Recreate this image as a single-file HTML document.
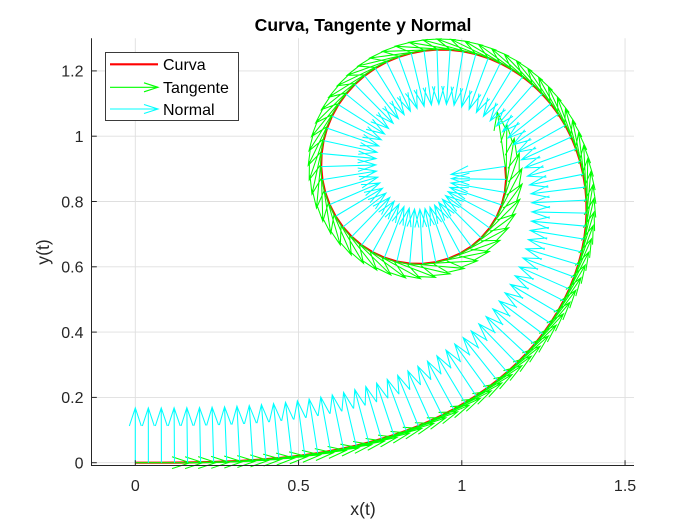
<!DOCTYPE html>
<html>
<head>
<meta charset="utf-8">
<style>
  html,body{margin:0;padding:0;background:#fff;}
  svg{display:block;}
  text{font-family:"Liberation Sans",Arial,sans-serif;}
</style>
</head>
<body>
<svg id="fig" width="700" height="525" viewBox="0 0 700 525" xmlns="http://www.w3.org/2000/svg">
  <rect x="0" y="0" width="700" height="525" fill="#ffffff"/>
  <!-- grid -->
  <g stroke="#dfdfdf" stroke-width="0.9" fill="none">
    <line x1="135.3" y1="38.3" x2="135.3" y2="465.7"/>
    <line x1="298.55" y1="38.3" x2="298.55" y2="465.7"/>
    <line x1="461.8" y1="38.3" x2="461.8" y2="465.7"/>
    <line x1="625.05" y1="38.3" x2="625.05" y2="465.7"/>
    <line x1="91.7" y1="462.7" x2="634" y2="462.7"/>
    <line x1="91.7" y1="397.4" x2="634" y2="397.4"/>
    <line x1="91.7" y1="332.1" x2="634" y2="332.1"/>
    <line x1="91.7" y1="266.8" x2="634" y2="266.8"/>
    <line x1="91.7" y1="201.5" x2="634" y2="201.5"/>
    <line x1="91.7" y1="136.2" x2="634" y2="136.2"/>
    <line x1="91.7" y1="70.9" x2="634" y2="70.9"/>
  </g>
  <g id="data"></g>
  <!-- axes -->
  <g stroke="#262626" stroke-width="1" fill="none">
    <line x1="91.5" y1="38.3" x2="91.5" y2="466"/>
    <line x1="91" y1="465.5" x2="634" y2="465.5"/>
    <line x1="135.3" y1="465.5" x2="135.3" y2="460.2"/>
    <line x1="298.55" y1="465.5" x2="298.55" y2="460.2"/>
    <line x1="461.8" y1="465.5" x2="461.8" y2="460.2"/>
    <line x1="625.05" y1="465.5" x2="625.05" y2="460.2"/>
    <line x1="91.5" y1="462.7" x2="96.8" y2="462.7"/>
    <line x1="91.5" y1="397.4" x2="96.8" y2="397.4"/>
    <line x1="91.5" y1="332.1" x2="96.8" y2="332.1"/>
    <line x1="91.5" y1="266.8" x2="96.8" y2="266.8"/>
    <line x1="91.5" y1="201.5" x2="96.8" y2="201.5"/>
    <line x1="91.5" y1="136.2" x2="96.8" y2="136.2"/>
    <line x1="91.5" y1="70.9" x2="96.8" y2="70.9"/>
  </g>
  <!-- tick labels -->
  <g fill="#262626" font-size="16" text-anchor="middle">
    <text x="135.3" y="491">0</text>
    <text x="298.55" y="491">0.5</text>
    <text x="461.8" y="491">1</text>
    <text x="625.05" y="491">1.5</text>
  </g>
  <g fill="#262626" font-size="16" text-anchor="end">
    <text x="83.5" y="468.5">0</text>
    <text x="83.5" y="403.2">0.2</text>
    <text x="83.5" y="337.9">0.4</text>
    <text x="83.5" y="272.6">0.6</text>
    <text x="83.5" y="207.3">0.8</text>
    <text x="83.5" y="142">1</text>
    <text x="83.5" y="76.7">1.2</text>
  </g>
  <text x="363" y="515" font-size="17.6" fill="#262626" text-anchor="middle">x(t)</text>
  <text x="0" y="0" font-size="17.6" fill="#262626" text-anchor="middle" transform="translate(49,252) rotate(-90)">y(t)</text>
  <text x="363" y="31" font-size="17.6" font-weight="bold" fill="#000" text-anchor="middle">Curva, Tangente y Normal</text>
  <!-- legend -->
  <rect x="105.5" y="52.5" width="133" height="68" fill="#ffffff" stroke="#262626" stroke-width="0.9"/>
  <line x1="110" y1="64.3" x2="158" y2="64.3" stroke="#ff0000" stroke-width="2.2"/>
  <g stroke="#00ff00" stroke-width="1.1" fill="none">
    <line x1="110" y1="87.3" x2="158" y2="87.3"/>
    <polyline points="144,82.8 158,87.3 144,91.8"/>
  </g>
  <g stroke="#00ffff" stroke-width="1.1" fill="none">
    <line x1="110" y1="109" x2="158" y2="109"/>
    <polyline points="144,104.5 158,109 144,113.5"/>
  </g>
  <g fill="#000" font-size="16">
    <text x="163" y="70">Curva</text>
    <text x="163" y="93">Tangente</text>
    <text x="163" y="115">Normal</text>
  </g>
</svg>
<script>
(function(){
  var NS="http://www.w3.org/2000/svg";
  var N=101, dt=0.04;
  var t=[], xs=[], ys=[];
  var cx=0, cy=0;
  function fc(s){return Math.cos(s*s/2);}
  function fs(s){return Math.sin(s*s/2);}
  t.push(0); xs.push(0); ys.push(0);
  for(var k=1;k<N;k++){
    var a=(k-1)*dt, b=k*dt, m=40, h=(b-a)/m;
    var sc=fc(a)+fc(b), ss=fs(a)+fs(b);
    for(var i=1;i<m;i++){
      var s=a+i*h, w=(i%2)?4:2;
      sc+=w*fc(s); ss+=w*fs(s);
    }
    cx+=sc*h/3; cy+=ss*h/3;
    t.push(b); xs.push(cx); ys.push(cy);
  }
  var minx=Math.min.apply(null,xs), maxx=Math.max.apply(null,xs);
  var miny=Math.min.apply(null,ys), maxy=Math.max.apply(null,ys);
  var n=Math.sqrt(N);
  var delx=(maxx-minx)/n, dely=(maxy-miny)/n;
  var L=0.9*Math.sqrt(delx*delx+dely*dely);
  var S=326.5, X0=135.3, Y0=462.7;
  function px(x){return X0+S*x;}
  function py(y){return Y0-S*y;}
  var g=document.getElementById("data");
  var d="";
  for(var k=0;k<N;k++){d+=(k?"L":"M")+px(xs[k]).toFixed(2)+" "+py(ys[k]).toFixed(2);}
  var c=document.createElementNS(NS,"path");
  c.setAttribute("d",d);c.setAttribute("fill","none");c.setAttribute("stroke","#ff0000");
  c.setAttribute("stroke-width","2.2");c.setAttribute("stroke-linejoin","round");
  g.appendChild(c);
  function quiver(fu,fv,color){
    var al=0.33, be=0.33, dd="";
    for(var k=0;k<N;k++){
      var th=t[k]*t[k]/2;
      var u=fu(th)*L, v=fv(th)*L;
      var x=xs[k], y=ys[k];
      var tx=x+u, ty=y+v;
      dd+="M"+px(x).toFixed(2)+" "+py(y).toFixed(2)+"L"+px(tx).toFixed(2)+" "+py(ty).toFixed(2);
      var h1x=tx-al*(u+be*v), h1y=ty-al*(v-be*u);
      var h2x=tx-al*(u-be*v), h2y=ty-al*(v+be*u);
      dd+="M"+px(h1x).toFixed(2)+" "+py(h1y).toFixed(2)+"L"+px(tx).toFixed(2)+" "+py(ty).toFixed(2)+"L"+px(h2x).toFixed(2)+" "+py(h2y).toFixed(2);
    }
    var p=document.createElementNS(NS,"path");
    p.setAttribute("d",dd);p.setAttribute("fill","none");p.setAttribute("stroke",color);
    p.setAttribute("stroke-width","1.05");
    g.appendChild(p);
  }
  quiver(function(a){return Math.cos(a);},function(a){return Math.sin(a);},"#00ff00");
  quiver(function(a){return -Math.sin(a);},function(a){return Math.cos(a);},"#00ffff");
})();
</script>
</body>
</html>
